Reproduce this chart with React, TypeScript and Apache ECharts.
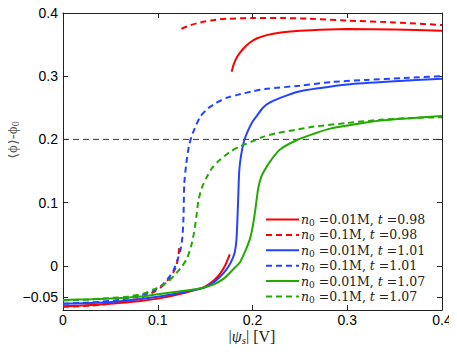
import React, { useEffect, useRef } from "react";
import * as echarts from "echarts";

const xTicks = [0, 0.1, 0.2, 0.3, 0.4];
const yTicks = [-0.05, 0, 0.1, 0.2, 0.3, 0.4];

const redSolidLow = [
  [0, -0.064], [0.02, -0.063], [0.05, -0.06], [0.08, -0.056], [0.1, -0.052], [0.12, -0.046],
  [0.14, -0.038], [0.15, -0.033], [0.16, -0.022], [0.166, -0.012], [0.171, 0.0], [0.176, 0.018],
];
const redSolidHigh = [
  [0.178, 0.307], [0.18, 0.318], [0.184, 0.331], [0.19, 0.343], [0.197, 0.353], [0.205, 0.36],
  [0.215, 0.365], [0.23, 0.369], [0.25, 0.372], [0.28, 0.374], [0.3, 0.3745], [0.35, 0.374], [0.4, 0.372],
];
const redDashLow = [
  [0, -0.065], [0.03, -0.063], [0.06, -0.058], [0.08, -0.052], [0.095, -0.042], [0.105, -0.032],
  [0.112, -0.02], [0.117, -0.009], [0.12, 0.002], [0.122, 0.018], [0.123, 0.035],
];
const redDashHigh = [
  [0.125, 0.375], [0.135, 0.381], [0.145, 0.385], [0.16, 0.389], [0.175, 0.391], [0.2, 0.392],
  [0.23, 0.392], [0.26, 0.391], [0.3, 0.388], [0.35, 0.385], [0.4, 0.381],
];
const blueSolid = [
  [0, -0.06], [0.03, -0.059], [0.06, -0.056], [0.08, -0.053], [0.1, -0.049], [0.12, -0.044],
  [0.14, -0.038], [0.15, -0.034], [0.16, -0.025], [0.166, -0.017], [0.172, -0.007], [0.177, 0.005],
  [0.181, 0.02], [0.183, 0.04], [0.184, 0.07], [0.185, 0.11], [0.186, 0.15], [0.188, 0.175],
  [0.191, 0.197], [0.195, 0.213], [0.2, 0.228], [0.205, 0.238], [0.211, 0.25], [0.218, 0.258],
  [0.23, 0.266], [0.247, 0.275], [0.27, 0.281], [0.3, 0.287], [0.35, 0.292], [0.4, 0.296],
];
const blueDash = [
  [0, -0.06], [0.03, -0.058], [0.06, -0.054], [0.08, -0.048], [0.095, -0.04], [0.105, -0.03],
  [0.112, -0.018], [0.117, -0.006], [0.121, 0.01], [0.124, 0.025], [0.126, 0.045], [0.127, 0.07],
  [0.1275, 0.1], [0.128, 0.13], [0.13, 0.16], [0.133, 0.19], [0.137, 0.21], [0.145, 0.236],
  [0.153, 0.249], [0.162, 0.258], [0.173, 0.266], [0.183, 0.27], [0.2, 0.276], [0.215, 0.28],
  [0.25, 0.285], [0.285, 0.291], [0.32, 0.294], [0.36, 0.297], [0.4, 0.3],
];
const greenSolid = [
  [0, -0.054], [0.03, -0.053], [0.06, -0.051], [0.08, -0.049], [0.1, -0.045], [0.12, -0.041],
  [0.14, -0.037], [0.15, -0.034], [0.16, -0.029], [0.17, -0.02], [0.18, -0.005], [0.187, 0.006],
  [0.192, 0.022], [0.197, 0.041], [0.2, 0.06], [0.203, 0.089], [0.206, 0.122], [0.209, 0.14],
  [0.213, 0.152], [0.22, 0.168], [0.229, 0.184], [0.247, 0.199], [0.265, 0.209], [0.282, 0.217],
  [0.3, 0.222], [0.335, 0.23], [0.37, 0.234], [0.4, 0.237],
];
const greenDash = [
  [0, -0.055], [0.03, -0.053], [0.067, -0.049], [0.085, -0.044], [0.095, -0.038], [0.105, -0.031],
  [0.111, -0.025], [0.12, -0.011], [0.126, 0.0], [0.131, 0.012], [0.135, 0.03], [0.138, 0.05],
  [0.141, 0.08], [0.143, 0.104], [0.147, 0.125], [0.152, 0.141], [0.158, 0.156], [0.166, 0.168],
  [0.176, 0.18], [0.187, 0.189], [0.2, 0.197], [0.211, 0.204], [0.226, 0.21], [0.245, 0.215],
  [0.264, 0.22], [0.3, 0.226], [0.335, 0.231], [0.37, 0.234], [0.4, 0.235],
];
const refLine = [[0, 0.2], [0.4, 0.2]];

const legendNames = ["a", "b", "c", "d", "e", "f"];
const legendConc = ["0.01M", "0.1M", "0.01M", "0.1M", "0.01M", "0.1M"];
const legendT = ["0.98", "0.98", "1.01", "1.01", "1.07", "1.07"];

const RED = "#ff0000";
const BLUE = "#2244ff";
const GREEN = "#22aa00";
const SERIF = "'DejaVu Serif', 'Liberation Serif', serif";
const SERIF2 = "'Liberation Serif', 'DejaVu Serif', serif";
const SANS = "'Liberation Sans', Arial, sans-serif";

function line(name: string, data: number[][], color: string, dashed: boolean, z = 3) {
  return {
    type: "line",
    name,
    data,
    showSymbol: false,
    symbol: "none",
    smooth: 0.25,
    z,
    lineStyle: { color, width: 2, type: dashed ? [6, 4] : "solid" },
    itemStyle: { color },
    emphasis: { disabled: true },
  };
}

export default function App() {
  const ref = useRef<HTMLDivElement>(null);
  useEffect(() => {
    if (!ref.current) return;
    const chart = echarts.init(ref.current, undefined, { renderer: "svg" });
    const axisCommon = {
      axisLine: { show: true, onZero: false, lineStyle: { color: "#222", width: 1 } },
      axisTick: { show: true, inside: true, length: 5, lineStyle: { color: "#222" } },
      splitLine: { show: false },
    };
    const richText = {
      i: { fontFamily: SERIF, fontStyle: "italic", fontSize: 12.5, color: "#222" },
      s: { fontFamily: SERIF, fontSize: 9, color: "#222", padding: [7, 0, 0, 0] },
      r: { fontFamily: SERIF, fontSize: 12.5, color: "#222" },
    };
    chart.setOption({
      animation: false,
      backgroundColor: "#fff",
      grid: { left: 63, right: 15, top: 13, bottom: 42, containLabel: false, outerBoundsMode: "none" },
      graphic: [
        {
          type: "text",
          x: 252,
          y: 336,
          style: {
            text: "{a||}{p|ψ}{s|s}{a|| [V]}",
            align: "center",
            verticalAlign: "middle",
            rich: {
              a: { fontFamily: SERIF2, fontSize: 16, fill: "#222" },
              p: { fontFamily: SERIF2, fontStyle: "italic", fontSize: 16, fill: "#222" },
              s: { fontFamily: SERIF2, fontStyle: "italic", fontSize: 11, fill: "#222", padding: [7, 0, 0, 0] },
            },
          },
        },
        {
          type: "text",
          x: 12,
          y: 140,
          rotation: Math.PI / 2,
          style: {
            text: "{a|⟨ϕ⟩-ϕ}{s|0}",
            align: "center",
            verticalAlign: "middle",
            rich: {
              a: { fontFamily: SERIF2, fontSize: 15, fill: "#555" },
              s: { fontFamily: SERIF2, fontSize: 10, fill: "#555", padding: [6, 0, 0, 0] },
            },
          },
        },
      ],
      legend: {
        data: legendNames,
        orient: "vertical",
        left: 260,
        top: 208,
        itemWidth: 33,
        itemHeight: 10,
        itemGap: 0.9,
        selectedMode: false,
        itemStyle: { opacity: 0, borderWidth: 0 },
        formatter: (name: string) => {
          const k = legendNames.indexOf(name);
          return `{i|n}{s|0}{r| =${legendConc[k]}, }{i|t}{r| =${legendT[k]}}`;
        },
        textStyle: { rich: richText, padding: [0, 0, 0, -3] },
      },
      xAxis: [
        {
          type: "value",
          min: 0,
          max: 0.4,
          interval: 0.1,
          position: "bottom",
          ...axisCommon,
          axisLabel: {
            color: "#000",
            fontFamily: SANS,
            fontSize: 14,
            margin: 3,
            customValues: xTicks,
            formatter: (v: number) => String(Math.round(v * 10) / 10),
          },
          axisTick: { ...axisCommon.axisTick, customValues: xTicks },
        },
        {
          type: "value",
          min: 0,
          max: 0.4,
          interval: 0.1,
          position: "top",
          ...axisCommon,
          axisTick: { ...axisCommon.axisTick, customValues: xTicks },
          axisLabel: { show: false },
        },
      ],
      yAxis: [
        {
          type: "value",
          min: -0.07,
          max: 0.4,
          position: "left",
          ...axisCommon,
          axisTick: { ...axisCommon.axisTick, customValues: yTicks },
          axisLabel: {
            color: "#000",
            fontFamily: SANS,
            fontSize: 14,
            margin: 5,
            customValues: yTicks,
            formatter: (v: number) => {
              const r = Math.round(v * 100) / 100;
              return r < 0 ? "\u2212" + String(-r) : String(r);
            },
          },
        },
        {
          type: "value",
          min: -0.07,
          max: 0.4,
          position: "right",
          ...axisCommon,
          axisTick: { ...axisCommon.axisTick, customValues: yTicks },
          axisLabel: { show: false },
        },
      ],
      series: [
        {
          type: "line",
          name: "ref",
          data: refLine,
          showSymbol: false,
          symbol: "none",
          z: 2,
          lineStyle: { color: "#333", width: 1, type: [6, 4] },
          emphasis: { disabled: true },
        },
        line("a", redSolidLow, RED, false),
        line("a", redSolidHigh, RED, false),
        line("b", redDashLow, RED, true),
        line("b", redDashHigh, RED, true),
        line("c", blueSolid, BLUE, false),
        line("d", blueDash, BLUE, true),
        line("e", greenSolid, GREEN, false),
        line("f", greenDash, GREEN, true),
      ],
    });
    return () => chart.dispose();
  }, []);
  return <div ref={ref} style={{ width: 457, height: 352, margin: -8 }} />;
}
